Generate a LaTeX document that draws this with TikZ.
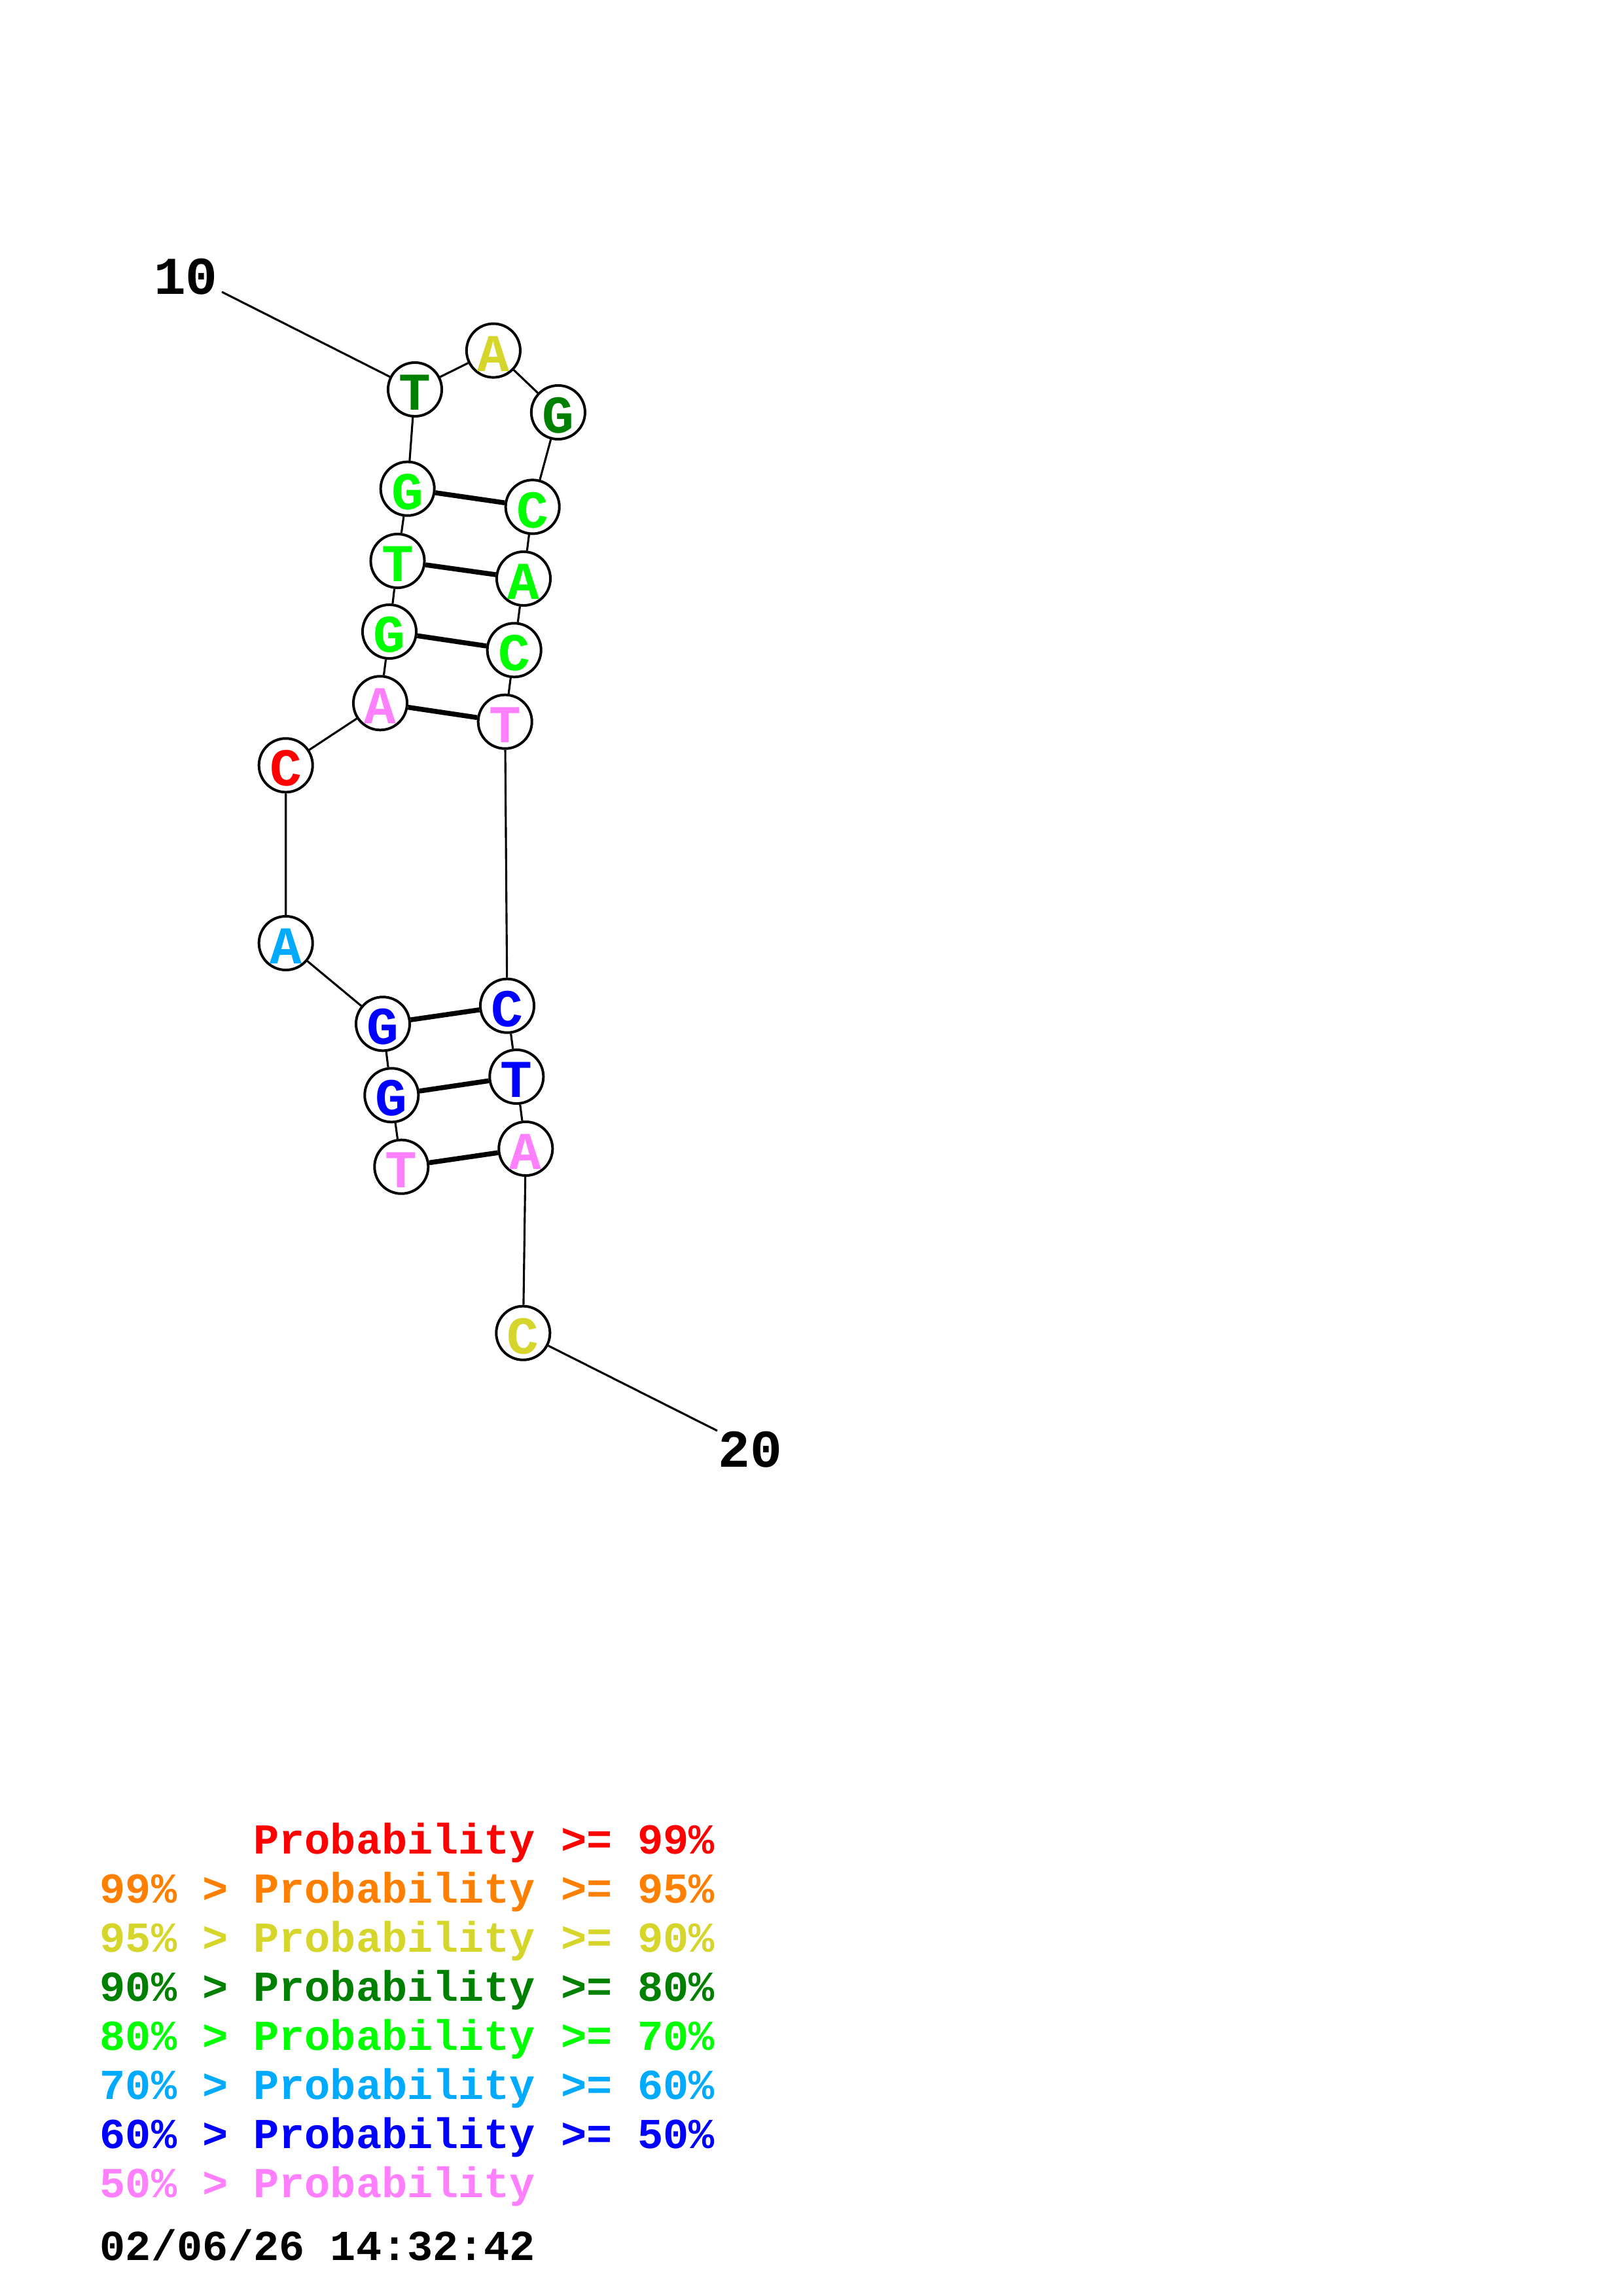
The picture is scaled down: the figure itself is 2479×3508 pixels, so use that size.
\documentclass[tikz,border=0pt]{standalone}
\usepackage{fontspec}
\setmonofont{Liberation Mono}
\definecolor{pr99}{HTML}{FF0000}
\definecolor{pr95}{HTML}{FF8000}
\definecolor{pr90}{HTML}{D5D52B}
\definecolor{pr80}{HTML}{008000}
\definecolor{pr70}{HTML}{00FF00}
\definecolor{pr60}{HTML}{00AAFF}
\definecolor{pr50}{HTML}{0000FF}
\definecolor{prlow}{HTML}{FF80FF}

\begin{document}
\begin{tikzpicture}[
  x=0.24pt, y=-0.24pt,
  base/.style={circle, draw=black, line width=0.95pt, fill=white,
               minimum size=19.7pt, inner sep=0pt, text height=15.2pt, text depth=0pt,
               font=\ttfamily\bfseries\fontsize{19.5}{20}\selectfont},
  bb/.style={line width=0.75pt, draw=black},
  bp/.style={line width=1.8pt, draw=black},
  num/.style={inner sep=0pt, font=\ttfamily\bfseries\fontsize{19.5}{20}\selectfont},
  lgd/.style={anchor=base west, inner sep=0pt,
              font=\ttfamily\bfseries\fontsize{15.65}{18}\selectfont},
]
\useasboundingbox (0,0) rectangle (2479,3508);

% --- bases ---
\node[base, text=prlow] (n1)  at (613.3,1782.7) {T};
\node[base, text=pr50]  (n2)  at (598.3,1673.3) {G};
\node[base, text=pr50]  (n3)  at (585,1564.3)   {G};
\node[base, text=pr60]  (n4)  at (436.7,1441)   {A};
\node[base, text=pr99]  (n5)  at (436.7,1169.3) {C};
\node[base, text=prlow] (n6)  at (581,1074.3)   {A};
\node[base, text=pr70]  (n7)  at (595,965)      {G};
\node[base, text=pr70]  (n8)  at (607.5,857)    {T};
\node[base, text=pr70]  (n9)  at (622.7,746.7)  {G};
\node[base, text=pr80]  (n10) at (634,595)      {T};
\node[base, text=pr90]  (n11) at (753.9,535.6)  {A};
\node[base, text=pr80]  (n12) at (852.9,630)    {G};
\node[base, text=pr70]  (n13) at (813.7,774.4)  {C};
\node[base, text=pr70]  (n14) at (800,884)      {A};
\node[base, text=pr70]  (n15) at (785.7,993.3)  {C};
\node[base, text=prlow] (n16) at (771.7,1102.7) {T};
\node[base, text=pr50]  (n17) at (775,1536.7)   {C};
\node[base, text=pr50]  (n18) at (789.3,1645)   {T};
\node[base, text=prlow] (n19) at (803.3,1755)   {A};
\node[base, text=pr90]  (n20) at (799.3,2036.7) {C};

% --- numeros ---
\node[num] (lab10) at (284,423)   {10};
\node[num] (lab20) at (1146,2215) {20};
\coordinate (lab10end) at (339,446);
\coordinate (lab20end) at (1096,2186);

% --- cadena ---
\draw[bb] (n1) -- (n2) -- (n3) -- (n4) -- (n5) -- (n6) -- (n7) -- (n8) -- (n9) -- (n10)
          -- (n11) -- (n12) -- (n13) -- (n14) -- (n15) -- (n16) -- (n17) -- (n18) -- (n19) -- (n20);
\draw[bb] (lab10end) -- (n10);
\draw[bb] (n20) -- (lab20end);

% --- pares ---
\draw[bp] (n9) -- (n13);
\draw[bp] (n8) -- (n14);
\draw[bp] (n7) -- (n15);
\draw[bp] (n6) -- (n16);
\draw[bp] (n3) -- (n17);
\draw[bp] (n2) -- (n18);
\draw[bp] (n1) -- (n19);

% --- leyenda ---
\node[lgd, text=pr99]  (leg1) at (152,2832.7) {\hphantom{99\% > }Probability >= 99\%};
\node[lgd, text=pr95]  (leg2) at (152,2907.7) {99\% > Probability >= 95\%};
\node[lgd, text=pr90]  (leg3) at (152,2982.7) {95\% > Probability >= 90\%};
\node[lgd, text=pr80]  (leg4) at (152,3057.7) {90\% > Probability >= 80\%};
\node[lgd, text=pr70]  (leg5) at (152,3132.7) {80\% > Probability >= 70\%};
\node[lgd, text=pr60]  (leg6) at (152,3207.7) {70\% > Probability >= 60\%};
\node[lgd, text=pr50]  (leg7) at (152,3282.7) {60\% > Probability >= 50\%};
\node[lgd, text=prlow] (leg8) at (152,3357.7) {50\% > Probability};
\node[lgd, text=black] (stamp) at (152,3453)  {02/06/26 14:32:42};
\end{tikzpicture}
\end{document}
